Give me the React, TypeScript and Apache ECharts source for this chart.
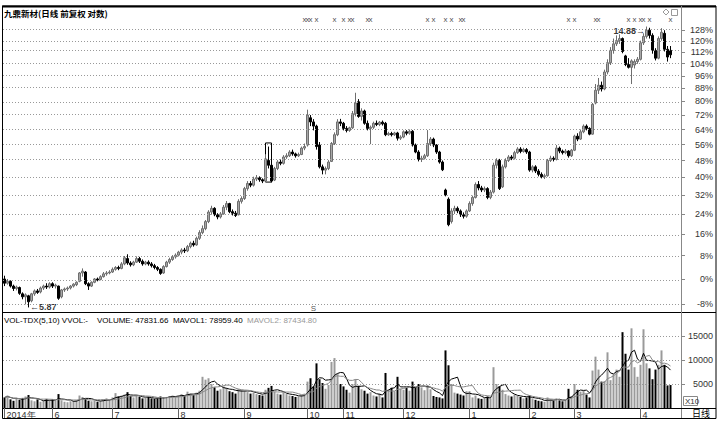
import React, { useEffect, useRef } from "react";
import * as echarts from "echarts";

const stockTitle = "九鼎新材(日线 前复权 对数)";
const basePrice = 6.45; // price that maps to 0%
const pctTicks = [-8, 0, 8, 16, 24, 32, 40, 48, 56, 64, 72, 80, 88, 96, 104, 112, 120, 128];
const pctMin = -10.36;
const pctMax = 145.3;

const monthStarts = [0, 16, 36, 58, 80, 101, 113, 133, 155, 175, 190, 212];
const monthNames = ["2014年", "6", "7", "8", "9", "10", "11", "12", "1", "2", "3", "4"];
const emptySlots = 3;

// [open, close, low, high]
const ohlc: number[][] = [
  // May
  [6.45, 6.36, 6.30, 6.52], [6.36, 6.40, 6.33, 6.45], [6.40, 6.30, 6.27, 6.42], [6.30, 6.25, 6.20, 6.33],
  [6.25, 6.28, 6.21, 6.31], [6.27, 6.15, 6.12, 6.29], [6.14, 6.08, 6.03, 6.17], [6.08, 6.12, 5.93, 6.15],
  [6.10, 5.98, 5.87, 6.12], [6.00, 6.14, 5.97, 6.16], [6.14, 6.20, 6.10, 6.23], [6.20, 6.17, 6.14, 6.24],
  [6.18, 6.26, 6.15, 6.29], [6.26, 6.30, 6.22, 6.33], [6.30, 6.28, 6.24, 6.36], [6.28, 6.35, 6.25, 6.38],
  // Jun
  [6.35, 6.30, 6.26, 6.38], [6.30, 6.32, 6.25, 6.35], [6.30, 6.05, 6.02, 6.31], [6.08, 6.22, 6.05, 6.24],
  [6.22, 6.24, 6.18, 6.27], [6.24, 6.26, 6.20, 6.29], [6.26, 6.30, 6.23, 6.32], [6.30, 6.34, 6.27, 6.36],
  [6.33, 6.38, 6.30, 6.40], [6.40, 6.58, 6.38, 6.60], [6.58, 6.62, 6.50, 6.68], [6.60, 6.35, 6.32, 6.62],
  [6.35, 6.30, 6.22, 6.38], [6.30, 6.38, 6.28, 6.40], [6.38, 6.45, 6.36, 6.47], [6.45, 6.43, 6.40, 6.48],
  [6.44, 6.50, 6.42, 6.53], [6.50, 6.56, 6.48, 6.60], [6.56, 6.58, 6.52, 6.62], [6.58, 6.60, 6.55, 6.64],
  // Jul
  [6.60, 6.66, 6.58, 6.70], [6.66, 6.70, 6.63, 6.73], [6.70, 6.68, 6.64, 6.74], [6.68, 6.78, 6.66, 6.82],
  [6.78, 6.92, 6.75, 6.96], [6.90, 6.80, 6.76, 7.00], [6.80, 6.76, 6.72, 6.84], [6.76, 6.82, 6.73, 6.85],
  [6.82, 6.90, 6.80, 6.95], [6.90, 6.84, 6.80, 6.94], [6.84, 6.78, 6.74, 6.88], [6.78, 6.82, 6.75, 6.85],
  [6.82, 6.78, 6.74, 6.86], [6.78, 6.74, 6.70, 6.82], [6.74, 6.70, 6.66, 6.78], [6.70, 6.66, 6.62, 6.73],
  [6.66, 6.57, 6.54, 6.68], [6.58, 6.72, 6.56, 6.75], [6.72, 6.82, 6.70, 6.85], [6.82, 6.88, 6.78, 6.92],
  [6.88, 6.94, 6.85, 6.98], [6.94, 6.98, 6.90, 7.02],
  // Aug
  [6.98, 7.05, 6.95, 7.08], [7.05, 7.10, 7.00, 7.14], [7.10, 7.08, 7.03, 7.15], [7.08, 7.18, 7.05, 7.22],
  [7.18, 7.26, 7.14, 7.30], [7.26, 7.22, 7.18, 7.32], [7.22, 7.38, 7.20, 7.42], [7.38, 7.52, 7.34, 7.58],
  [7.52, 7.62, 7.48, 7.70], [7.62, 7.80, 7.58, 7.84], [7.80, 8.05, 7.76, 8.10], [8.05, 8.15, 7.98, 8.22],
  [8.15, 7.98, 7.94, 8.18], [7.98, 7.92, 7.86, 8.02], [7.92, 8.00, 7.88, 8.05], [8.00, 8.18, 7.98, 8.24],
  [8.18, 8.28, 8.10, 8.35], [8.28, 8.06, 8.02, 8.30], [8.06, 8.02, 7.96, 8.12], [8.02, 7.96, 7.92, 8.08],
  [7.98, 8.34, 7.96, 8.40], [8.34, 8.42, 8.28, 8.48],
  // Sep
  [8.42, 8.70, 8.38, 8.75], [8.70, 8.85, 8.64, 8.92], [8.85, 8.80, 8.74, 8.92], [8.80, 8.98, 8.76, 9.05],
  [8.98, 9.02, 8.92, 9.10], [9.02, 8.96, 8.90, 9.06], [8.96, 8.92, 8.86, 9.00], [8.92, 9.60, 8.90, 9.75],
  [9.55, 9.40, 9.30, 10.00], [9.40, 8.92, 8.88, 9.48], [8.95, 9.30, 8.92, 9.35], [9.30, 9.50, 9.25, 9.56],
  [9.50, 9.46, 9.40, 9.58], [9.46, 9.66, 9.42, 9.72], [9.66, 9.70, 9.60, 9.78], [9.70, 9.82, 9.66, 9.88],
  [9.82, 9.76, 9.70, 9.90], [9.76, 9.70, 9.64, 9.80], [9.70, 9.74, 9.66, 9.80], [9.74, 9.95, 9.72, 10.00],
  [9.95, 10.00, 9.88, 10.10],
  // Oct
  [10.05, 11.10, 10.00, 11.30], [11.00, 10.85, 10.70, 11.10], [10.85, 10.70, 10.55, 10.95], [10.70, 10.00, 9.90, 10.75],
  [10.05, 9.35, 9.30, 10.15], [9.35, 9.25, 9.12, 9.42], [9.25, 9.30, 9.12, 9.36], [9.30, 9.50, 9.25, 9.56],
  [9.52, 10.10, 9.50, 10.15], [10.10, 10.40, 10.05, 10.48], [10.40, 10.85, 10.35, 10.95], [10.85, 10.80, 10.70, 10.96],
  // Nov
  [10.80, 10.62, 10.55, 10.85], [10.62, 10.55, 10.48, 10.70], [10.55, 10.64, 10.50, 10.68], [10.64, 11.15, 10.60, 11.25],
  [11.15, 11.55, 11.05, 11.95], [11.60, 11.05, 11.00, 11.70], [11.05, 11.25, 10.90, 11.35], [11.25, 10.80, 10.75, 11.30],
  [10.80, 10.62, 10.55, 10.90], [10.62, 10.66, 10.08, 10.72], [10.66, 10.80, 10.60, 10.86], [10.80, 10.76, 10.70, 10.90],
  [10.76, 10.84, 10.70, 10.88], [10.84, 10.78, 10.72, 10.90], [10.80, 10.40, 10.35, 10.85], [10.40, 10.44, 10.36, 10.50],
  [10.44, 10.40, 10.34, 10.50], [10.40, 10.46, 10.36, 10.50], [10.46, 10.28, 10.20, 10.50], [10.28, 10.32, 10.22, 10.38],
  // Dec
  [10.32, 10.50, 10.28, 10.55], [10.50, 10.45, 10.38, 10.56], [10.45, 10.52, 10.40, 10.58], [10.52, 10.05, 10.00, 10.56],
  [10.05, 9.82, 9.78, 10.10], [9.82, 9.58, 9.52, 9.88], [9.58, 9.62, 9.50, 9.70], [9.62, 9.70, 9.58, 9.76],
  [9.70, 10.10, 9.66, 10.56], [10.10, 10.25, 10.02, 10.32], [10.25, 10.05, 9.98, 10.30], [10.05, 9.82, 9.76, 10.08],
  [9.82, 9.50, 9.45, 9.86], [9.50, 9.26, 9.22, 9.55], [8.66, 8.52, 8.48, 8.70], [8.40, 7.72, 7.68, 8.45],
  [7.80, 8.08, 7.75, 8.15], [8.08, 8.15, 8.00, 8.22], [8.15, 8.08, 8.02, 8.20], [8.08, 7.98, 7.92, 8.12],
  [7.98, 7.94, 7.88, 8.04], [7.94, 8.08, 7.90, 8.12],
  // Jan
  [8.08, 8.28, 8.05, 8.34], [8.28, 8.45, 8.22, 8.50], [8.45, 8.82, 8.42, 8.88], [8.82, 8.72, 8.65, 8.92],
  [8.72, 8.66, 8.60, 8.78], [8.66, 8.70, 8.60, 8.76], [8.70, 8.45, 8.40, 8.74], [8.45, 8.60, 8.40, 8.66],
  [8.60, 9.40, 8.56, 9.48], [9.40, 9.55, 9.30, 9.62], [9.55, 8.70, 8.66, 9.60], [8.75, 9.35, 8.72, 9.42],
  [9.35, 9.55, 9.30, 9.62], [9.55, 9.66, 9.50, 9.72], [9.66, 9.62, 9.56, 9.72], [9.62, 9.80, 9.58, 9.86],
  [9.80, 9.92, 9.76, 9.98], [9.92, 9.84, 9.78, 9.98], [9.84, 9.90, 9.80, 9.96], [9.90, 9.82, 9.76, 9.95],
  // Feb
  [9.82, 9.25, 9.20, 9.86], [9.25, 9.35, 9.18, 9.40], [9.35, 9.22, 9.16, 9.40], [9.22, 9.12, 9.06, 9.28],
  [9.12, 9.05, 9.00, 9.18], [9.05, 9.08, 8.98, 9.14], [9.08, 9.55, 9.05, 9.60], [9.55, 9.62, 9.50, 9.70],
  [9.62, 9.58, 9.52, 9.68], [9.58, 9.95, 9.55, 10.05], [9.95, 9.85, 9.78, 10.00], [9.85, 9.80, 9.74, 9.90],
  [9.80, 9.85, 9.75, 9.92], [9.85, 9.70, 9.64, 9.88], [9.70, 9.88, 9.66, 9.92],
  // Mar
  [9.88, 10.35, 9.85, 10.40], [10.35, 10.25, 10.18, 10.45], [10.25, 10.50, 10.22, 10.58], [10.50, 10.70, 10.45, 10.76],
  [10.70, 10.62, 10.55, 10.76], [10.62, 10.42, 10.38, 10.66], [10.42, 11.50, 10.40, 11.55], [11.55, 12.05, 11.50, 12.30],
  [12.05, 12.25, 11.90, 12.55], [12.25, 12.10, 12.00, 12.40], [12.10, 12.80, 12.05, 12.90], [12.80, 13.20, 12.70, 13.35],
  [13.20, 13.75, 13.10, 13.90], [13.75, 14.05, 13.60, 14.30], [14.05, 14.20, 13.95, 14.45], [14.20, 14.30, 14.05, 14.50],
  [14.30, 13.70, 13.62, 14.35], [13.50, 13.12, 13.05, 13.55], [13.12, 13.00, 12.95, 13.40], [13.00, 13.28, 12.30, 13.35],
  [13.10, 13.25, 12.95, 13.35], [13.25, 13.35, 13.15, 13.45],
  // Apr
  [13.35, 14.10, 13.30, 14.20], [14.10, 14.40, 14.00, 14.55], [14.40, 14.70, 14.30, 14.88], [14.70, 14.45, 14.30, 14.82],
  [14.45, 13.75, 13.60, 14.55], [13.75, 13.40, 13.30, 13.85], [13.40, 14.30, 13.35, 14.40], [14.30, 14.60, 14.20, 14.80],
  [14.55, 13.80, 13.70, 14.70], [13.80, 13.45, 13.25, 13.95], [13.75, 13.55, 13.40, 13.95],
];

// volume in displayed units (x10)
const volumes: number[] = [
  2200, 2600, 1800, 1500, 2000, 1700, 2100, 2400, 2700, 1600, 1400, 1800, 1300, 1500, 1900, 1600,
  1800, 1500, 2900, 1600, 1300, 1200, 1400, 1500, 1700, 2600, 2300, 1900, 1500, 1400, 1600, 1300, 1500, 1800, 2000, 1700,
  2200, 3100, 2400, 2600, 2800, 3300, 2500, 2200, 2600, 2400, 2000, 2100, 2300, 2000, 1900, 2000, 2400, 2200, 2300, 2500, 2600, 2400,
  2600, 2900, 2500, 3400, 3000, 2700, 3200, 3600, 6500, 5900, 6200, 5000, 4300, 3600, 3900, 4500, 4200, 3500, 3300, 3000, 4000, 3800,
  3600, 3300, 3000, 3200, 2900, 2700, 2600, 3800, 4200, 4600, 3400, 3000, 2800, 3300, 2900, 2600, 2500, 2300, 2400, 2700, 3000,
  5500, 6200, 4500, 9300, 6000, 5200, 4000, 4800, 9600, 10400, 7200, 5000,
  4500, 3800, 3200, 5000, 6000, 4600, 3900, 3600, 3000, 3300, 2600, 2400, 3000, 2200, 7300, 3800, 4200, 3500, 6500, 4000,
  3800, 4200, 3600, 5500, 4400, 5000, 4300, 3700, 4800, 3900, 2500, 2300, 2200, 2000, 12000, 8900, 5000, 3200, 3000, 2800, 2600, 3500,
  3500, 2200, 2600, 2000, 1900, 2100, 2400, 2000, 8500, 5000, 4500, 3800, 2900, 2600, 2400, 2800, 2500, 2300, 2000, 2200,
  2600, 2000, 1700, 1500, 1400, 1300, 2200, 1800, 1500, 2000, 1600, 1400, 1700, 4000, 2500,
  5000, 3800, 3400, 3600, 2800, 2200, 7800, 10700, 8000, 5500, 5600, 11600, 5800, 7000, 8000, 6500, 15800, 11300, 8000, 16600, 8500, 6500,
  9000, 16400, 9300, 8255.1, 6000, 8000, 9000, 12000, 8996.534, 4700, 4783.166,
];

const markerDays = [100, 101, 102, 104, 110, 113, 115, 116, 121, 122, 141, 143, 147, 149, 152, 153, 188, 190, 197, 198, 208, 210, 212, 213, 215, 222];
const markerPct = 136.5;
const flagDay = 103;
const flagPct = -9.3;
const boxDays = [87, 89];
const boxPrices = [8.89, 10.12];
const volTicks = [5000, 10000, 15000];
const volMax = 19792;

export default function App() {
  const ref = useRef<HTMLDivElement>(null);
  useEffect(() => {
    const chart = echarts.init(ref.current!, null, { renderer: "svg" });
    const ln = Math.log;
    const pctToLn = (p: number) => ln(basePrice * (1 + p / 100));
    const N = ohlc.length + emptySlots;
    const cats = Array.from({ length: N }, (_, i) => String(i));
    const candleData = ohlc.map((r) => r.map(ln));
    const up = (r: number[]) => r[1] >= r[0];
    const volData = volumes.map((v, i) => ({
      value: v,
      itemStyle: { color: up(ohlc[i]) ? "#9a9a9a" : "#000" },
    }));
    const ma = (n: number) =>
      volumes.map((_, i) => {
        const s = Math.max(0, i - n + 1);
        let t = 0;
        for (let k = s; k <= i; k++) t += volumes[k];
        return t / (i - s + 1);
      });
    const ma5 = ma(5);
    const ma10 = ma(10);
    const last = volumes.length - 1;

    let lowIdx = 0, highIdx = 0;
    ohlc.forEach((r, i) => {
      if (r[2] < ohlc[lowIdx][2]) lowIdx = i;
      if (r[3] > ohlc[highIdx][3]) highIdx = i;
    });

    const numFont = "Liberation Sans";
    const tickLn = pctTicks.map(pctToLn);
    const hidden = { color: "rgba(0,0,0,0)" };
    const gap = "\u00a0\u00a0\u00a0\u00a0";

    const option: any = {
      animation: false,
      backgroundColor: "#fff",
      grid: [
        { left: 3, right: 41, top: 8, bottom: 111 },
        { left: 3, right: 41, top: 313, bottom: 15 },
      ],
      xAxis: [
        {
          type: "category", gridIndex: 0, data: cats, boundaryGap: true,
          axisLine: { show: false }, axisTick: { show: false }, axisLabel: { show: false }, splitLine: { show: false },
        },
        {
          type: "category", gridIndex: 1, data: cats, boundaryGap: true,
          axisLine: { show: true, lineStyle: { color: "#000", width: 1 } },
          axisTick: {
            show: true, alignWithLabel: true, length: 10,
            interval: (i: number) => monthStarts.includes(i),
            lineStyle: { color: "#666" },
          },
          axisLabel: {
            interval: (i: number) => monthStarts.includes(i),
            formatter: (_v: string, i: number) => monthNames[monthStarts.indexOf(i)] ?? "",
            align: "left", padding: [0, 0, 0, 2], margin: 2,
            fontSize: 9, color: "#333", fontFamily: numFont,
          },
          splitLine: { show: false },
        },
      ],
      yAxis: [
        {
          type: "value", gridIndex: 0, position: "right", scale: true,
          min: pctToLn(pctMin), max: pctToLn(pctMax),
          splitLine: { show: false },
          axisLine: { show: true, lineStyle: { color: "#888" } },
          axisTick: { show: true, customValues: tickLn, length: 4, lineStyle: { color: "#888" } },
          axisLabel: {
            customValues: tickLn,
            formatter: (v: number) => Math.round((Math.exp(v) / basePrice - 1) * 100) + "%",
            align: "right", margin: 32, fontSize: 9, color: "#333", fontFamily: numFont,
          },
        },
        {
          type: "value", gridIndex: 1, position: "right",
          min: 0, max: volMax,
          splitLine: { show: false },
          axisLine: { show: true, lineStyle: { color: "#888" } },
          axisTick: { show: true, customValues: volTicks, length: 4, lineStyle: { color: "#888" } },
          axisLabel: {
            customValues: volTicks,
            formatter: (v: number) => String(v),
            align: "right", margin: 32, fontSize: 9, color: "#333", fontFamily: numFont,
          },
        },
      ],
      series: [
        {
          type: "candlestick", xAxisIndex: 0, yAxisIndex: 0, data: candleData, barWidth: 2,
          itemStyle: { color: "#a8a8a8", color0: "#000", borderColor: "#6e6e6e", borderColor0: "#000", borderWidth: 1 },
          markLine: {
            silent: true, symbol: ["none", "none"], animation: false,
            label: { show: false },
            lineStyle: { type: [1, 2], color: "#999", width: 1 },
            data: tickLn.map((y) => ({ yAxis: y })),
          },
          markArea: {
            silent: true,
            itemStyle: { color: "rgba(0,0,0,0)", borderColor: "#000", borderWidth: 1 },
            data: [[
              { xAxis: String(boxDays[0]), yAxis: ln(boxPrices[0]) },
              { xAxis: String(boxDays[1]), yAxis: ln(boxPrices[1]) },
            ]],
          },
        },
        {
          type: "scatter", xAxisIndex: 0, yAxisIndex: 0, symbolSize: 1, silent: true,
          itemStyle: hidden,
          data: markerDays.map((d) => [d, pctToLn(markerPct)]),
          label: { show: true, position: "inside", formatter: "x", fontSize: 8, color: "#222", fontFamily: numFont },
        },
        {
          type: "scatter", xAxisIndex: 0, yAxisIndex: 0, symbolSize: 1, silent: true,
          itemStyle: hidden,
          data: [[flagDay, pctToLn(flagPct)]],
          label: { show: true, position: "inside", formatter: "S", fontSize: 8, color: "#222", fontFamily: numFont },
        },
        {
          type: "scatter", xAxisIndex: 0, yAxisIndex: 0, symbolSize: 1, silent: true,
          itemStyle: hidden,
          data: [
            { value: [lowIdx, ln(ohlc[lowIdx][2])], label: { position: "right", distance: 1, formatter: "←" + ohlc[lowIdx][2].toFixed(2) } },
            { value: [highIdx, ln(ohlc[highIdx][3])], label: { position: "left", distance: 1, offset: [0, 4], formatter: ohlc[highIdx][3].toFixed(2) + "→" } },
          ],
          label: { show: true, fontSize: 9, color: "#000", fontWeight: "bold", fontFamily: numFont },
        },
        {
          type: "bar", xAxisIndex: 1, yAxisIndex: 1, data: volData, barWidth: 2,
          markLine: {
            silent: true, symbol: ["none", "none"], label: { show: false },
            lineStyle: { type: [1, 2], color: "#999", width: 1 },
            data: volTicks.map((v) => ({ yAxis: v })),
          },
        },
        {
          type: "line", xAxisIndex: 1, yAxisIndex: 1, data: ma5, symbol: "none",
          lineStyle: { color: "#000", width: 1 },
        },
        {
          type: "line", xAxisIndex: 1, yAxisIndex: 1, data: ma10, symbol: "none",
          lineStyle: { color: "#888", width: 1 },
        },
      ],
      graphic: [
        { type: "rect", silent: true, z: 100, shape: { x: 2.5, y: 6, width: 713.5, height: 412.5 }, style: { fill: "none", stroke: "#000", lineWidth: 1 } },
        { type: "line", silent: true, z: 100, shape: { x1: 2, y1: 6.5, x2: 716, y2: 6.5 }, style: { stroke: "#000", lineWidth: 2 } },
        { type: "line", silent: true, z: 100, shape: { x1: 2, y1: 312.5, x2: 716, y2: 312.5 }, style: { stroke: "#000", lineWidth: 1 } },
        { type: "line", silent: true, z: 100, shape: { x1: 681.5, y1: 6, x2: 681.5, y2: 418 }, style: { stroke: "#888", lineWidth: 1 } },
        { type: "line", silent: true, z: 100, shape: { x1: 681, y1: 408.5, x2: 716, y2: 408.5 }, style: { stroke: "#000", lineWidth: 1 } },
        {
          type: "text", silent: true, z: 100, x: 4, y: 13,
          style: { text: stockTitle, font: 'bold 8.5px "Noto Sans CJK SC"', fill: "#000", verticalAlign: "middle" },
        },
        {
          type: "text", silent: true, z: 100, x: 4, y: 320,
          style: {
            text:
              "{a|VOL-TDX(5,10) VVOL:-" + gap + "VOLUME: " + (volumes[last] * 10).toFixed(2) +
              "\u00a0 MAVOL1: " + (ma5[last] * 10).toFixed(2) + "\u00a0 }{b|MAVOL2: " + (ma10[last] * 10).toFixed(2) + "}",
            verticalAlign: "middle",
            rich: {
              a: { fontSize: 8, fontFamily: numFont, fill: "#000" },
              b: { fontSize: 8, fontFamily: numFont, fill: "#999" },
            },
          },
        },
        { type: "rect", silent: true, z: 100, shape: { x: 683.5, y: 396.5, width: 14, height: 9 }, style: { fill: "#fff", stroke: "#888" } },
        { type: "text", silent: true, z: 101, x: 685, y: 401, style: { text: "X10", font: "8px Liberation Sans", fill: "#333", verticalAlign: "middle" } },
        { type: "text", silent: true, z: 101, x: 692, y: 413.5, style: { text: "日线", font: '9px "Noto Sans CJK SC"', fill: "#000", verticalAlign: "middle" } },
        { type: "polygon", silent: true, z: 101, shape: { points: [[666, 9], [669, 12], [666, 15], [663, 12]] }, style: { fill: "none", stroke: "#999" } },
        { type: "rect", silent: true, z: 101, shape: { x: 671.5, y: 9.5, width: 6, height: 6 }, style: { fill: "none", stroke: "#999" } },
      ],
    };
    chart.setOption(option);
    return () => chart.dispose();
  }, []);
  return <div ref={ref} style={{ position: "absolute", left: 0, top: 0, width: 722, height: 423 }} />;
}
